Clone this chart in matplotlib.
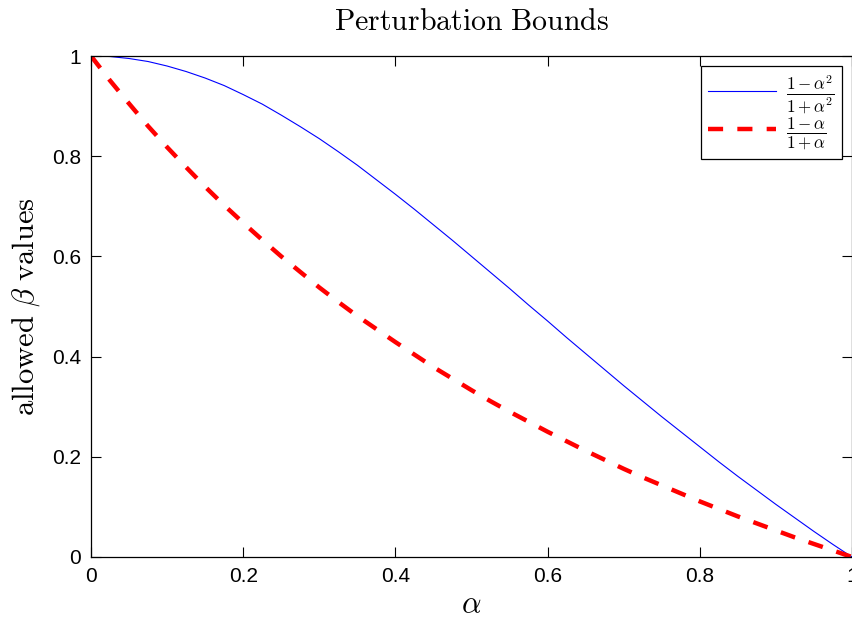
import numpy as np
import matplotlib
matplotlib.use("Agg")
import matplotlib.pyplot as plt

plt.rcParams['mathtext.fontset'] = 'cm'
plt.rcParams['font.family'] = ['Liberation Sans', 'DejaVu Sans']

# alpha samples and the two bound curves read at those points
alpha = [0.000, 0.025, 0.050, 0.075, 0.100, 0.125, 0.150, 0.175, 0.200, 0.225,
         0.250, 0.275, 0.300, 0.325, 0.350, 0.375, 0.400, 0.425, 0.450, 0.475,
         0.500, 0.525, 0.550, 0.575, 0.600, 0.625, 0.650, 0.675, 0.700, 0.725,
         0.750, 0.775, 0.800, 0.825, 0.850, 0.875, 0.900, 0.925, 0.950, 0.975, 1.000]
beta_sq = [1.000, 0.999, 0.995, 0.989, 0.980, 0.969, 0.956, 0.941, 0.923, 0.904,
           0.882, 0.859, 0.835, 0.809, 0.782, 0.753, 0.724, 0.694, 0.663, 0.632,
           0.600, 0.568, 0.536, 0.503, 0.471, 0.438, 0.406, 0.374, 0.342, 0.311,
           0.280, 0.250, 0.220, 0.190, 0.161, 0.133, 0.105, 0.078, 0.051, 0.025, 0.000]
beta_lin = [1.000, 0.951, 0.905, 0.860, 0.818, 0.778, 0.739, 0.702, 0.667, 0.633,
            0.600, 0.569, 0.538, 0.509, 0.481, 0.455, 0.429, 0.404, 0.379, 0.356,
            0.333, 0.311, 0.290, 0.270, 0.250, 0.231, 0.212, 0.194, 0.176, 0.159,
            0.143, 0.127, 0.111, 0.096, 0.081, 0.067, 0.053, 0.039, 0.026, 0.013, 0.000]

xticks = [0, 0.2, 0.4, 0.6, 0.8, 1]
yticks = [0, 0.2, 0.4, 0.6, 0.8, 1]
xtick_labels = ['0', '0.2', '0.4', '0.6', '0.8', '1']
ytick_labels = ['0', '0.2', '0.4', '0.6', '0.8', '1']

fig = plt.figure(figsize=(8.52, 6.22), dpi=100)
ax = fig.add_axes([91 / 852, 1 - 557 / 622, 761 / 852, 501 / 622])

ax.plot(alpha, beta_sq, color='#0000ff', linewidth=0.8,
        label=r'$\frac{1-\alpha^2}{1+\alpha^2}$')
ax.plot(alpha, beta_lin, color='#ff0000', linewidth=3.2, linestyle='--',
        dashes=(3.4, 3.2), label=r'$\frac{1-\alpha}{1+\alpha}$')

ax.set_xlim(0, 1)
ax.set_ylim(0, 1)
ax.set_xticks(xticks)
ax.set_xticklabels(xtick_labels)
ax.set_yticks(yticks)
ax.set_yticklabels(ytick_labels)
ax.tick_params(direction='in', length=7, width=0.8, labelsize=15, top=True, right=True,
               pad=7)
for s in ax.spines.values():
    s.set_linewidth(0.9)

ax.set_title(r'$\mathrm{Perturbation\ Bounds}$', fontsize=21.5, pad=19)
ax.set_xlabel(r'$\alpha$', fontsize=22, labelpad=3)
ax.set_ylabel(r'$\mathrm{allowed}\ \beta\ \mathrm{values}$', fontsize=22, labelpad=7)

leg = ax.legend(loc='upper right', bbox_to_anchor=(0.987, 0.98), fontsize=17.5,
                fancybox=False, framealpha=1, edgecolor='black',
                handlelength=2.8, borderpad=0.3, labelspacing=-0.05,
                handletextpad=0.4, borderaxespad=0)
leg.get_frame().set_linewidth(0.9)

fig.savefig('out.png', dpi=100)
